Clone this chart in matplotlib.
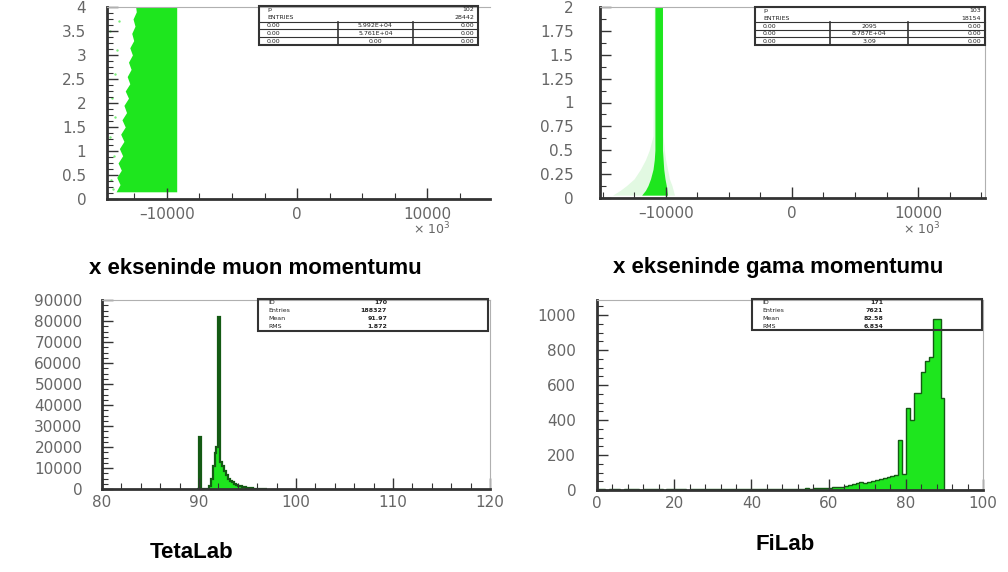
import numpy as np
import matplotlib.pyplot as plt
from matplotlib.patches import Rectangle
from matplotlib.ticker import MultipleLocator, FixedLocator, FixedFormatter, FuncFormatter

W, H = 1008, 572

# muon px vs. something: dense region, ragged left edge
muon_y = [0.15, 0.3, 0.45, 0.6, 0.75, 0.9, 1.05, 1.2, 1.35, 1.5, 1.65, 1.8, 1.95, 2.1,
          2.25, 2.4, 2.55, 2.7, 2.85, 3.0, 3.15, 3.3, 3.45, 3.6, 3.75, 3.9, 4.0]
muon_left = [-13900, -13600, -13850, -13500, -13750, -13400, -13650, -13300, -13550, -13200,
             -13450, -13100, -13300, -12950, -13200, -12850, -13050, -12750, -12950, -12650,
             -12850, -12550, -12700, -12450, -12600, -12350, -12400]
muon_right = -9250
muon_dots_x = [-14300, -14100, -14400, -13950, -14200, -14000, -13800, -14350, -13700, -14150]
muon_dots_y = [0.4, 0.9, 1.3, 1.7, 2.1, 2.6, 3.1, 3.5, 3.7, 0.2]

# gamma px: narrow core band and a faint halo at small y
gamma_y = [0.03, 0.08, 0.13, 0.2, 0.3, 0.4, 0.5, 0.65, 2.0]
gamma_core_left = [-11900, -11600, -11400, -11200, -11000, -10900, -10850, -10850, -10850]
gamma_core_right = [-9850, -9900, -9950, -10050, -10150, -10200, -10250, -10250, -10250]
gamma_halo_left = [-14200, -13600, -13100, -12500, -12000, -11600, -11300, -11000, -10900]
gamma_halo_right = [-9300, -9400, -9500, -9700, -9850, -10000, -10100, -10200, -10250]

# TetaLab histogram, 0.2 wide bins starting at 89.8
teta_start, teta_width = 89.8, 0.2
teta_counts = [0, 25000, 0, 0, 0, 0, 1500, 5000, 11000, 17000, 20000, 82000, 13000, 11000,
               8500, 6500, 5000, 4000, 3200, 2600, 2000, 1600, 1300, 1000, 800, 600, 450,
               350, 250, 200, 150, 100, 80, 60, 50, 40]

# FiLab histogram, 1 degree bins from 0 to 100
fi_counts = [3, 5, 2, 4, 6, 3, 2, 5, 4, 3,
             4, 2, 5, 3, 4, 6, 3, 2, 4, 5,
             6, 3, 4, 2, 5, 3, 4, 6, 5, 3,
             4, 6, 5, 4, 3, 5, 6, 4, 5, 6,
             7, 5, 6, 4, 5, 6, 7, 5, 6, 8,
             7, 6, 8, 7, 9, 8, 10, 9, 11, 12,
             14, 15, 18, 20, 24, 28, 32, 38, 45, 42,
             48, 52, 58, 62, 66, 72, 80, 88, 285, 90,
             467, 400, 552, 552, 676, 735, 760, 975, 975, 524,
             0, 0, 0, 0, 0, 0, 0, 0, 0, 0]

green = '#1ee61e'
dark_green = '#145a14'
tick_grey = '#666666'

fig = plt.figure(figsize=(W / 100, H / 100), dpi=100)


def box(l, t, r, b):
    return [l / W, 1 - b / H, (r - l) / W, (b - t) / H]


def style_axes(ax, show_right=True, ypad=15):
    for s in ['left', 'bottom']:
        ax.spines[s].set_color('#333333')
        ax.spines[s].set_linewidth(2)
    for s in ['top', 'right']:
        ax.spines[s].set_color('#b0b0b0')
        ax.spines[s].set_linewidth(0.8)
    if not show_right:
        ax.spines['right'].set_visible(False)
    ax.tick_params(which='both', direction='in', colors='#333333', labelcolor=tick_grey,
                   labelsize=11, top=False, right=False)
    ax.tick_params(which='major', length=8, width=1)
    ax.tick_params(which='minor', length=4, width=0.8)
    ax.tick_params(axis='y', pad=ypad)
    ax.yaxis.set_major_formatter(FuncFormatter(lambda v, p: '%g' % v))


def fpx(x, y):
    return x / W, 1 - y / H


def stats_th1(l, t, r, b, vcol, rows):
    fig.add_artist(Rectangle(fpx(l, b), (r - l) / W, (b - t) / H, transform=fig.transFigure,
                             fill=False, ec='#333333', lw=1.5, zorder=10))
    n = len(rows)
    step = (b - t) / n
    for i, (name, val) in enumerate(rows):
        y = t + step * (i + 0.5)
        fig.text(*fpx(l + 10, y), name, fontsize=4.5, va='center', ha='left', color='#222222')
        fig.text(*fpx(vcol, y), val, fontsize=4.5, va='center', ha='right', color='#222222',
                 fontweight='bold')


def stats_th2(l, t, r, b, d1, d2, head, grid):
    fig.add_artist(Rectangle(fpx(l, b), (r - l) / W, (b - t) / H, transform=fig.transFigure,
                             fill=False, ec='#333333', lw=1.5, zorder=10))
    step = (b - t) / 5
    for i, (name, val) in enumerate(head):
        y = t + step * (i + 0.5)
        fig.text(*fpx(l + 8, y), name, fontsize=4.5, va='center', ha='left', color='#222222')
        fig.text(*fpx(r - 4, y), val, fontsize=4.5, va='center', ha='right', color='#222222')
    for i in range(3):
        yl = t + step * (2 + i)
        fig.add_artist(plt.Line2D([l / W, r / W], [1 - yl / H] * 2, transform=fig.transFigure,
                                  color='#333333', lw=0.8))
    for xd in (d1, d2):
        fig.add_artist(plt.Line2D([xd / W] * 2, [1 - (t + 2 * step) / H, 1 - b / H],
                                  transform=fig.transFigure, color='#333333', lw=1.2))
    for i, row in enumerate(grid):
        y = t + step * (2.5 + i)
        fig.text(*fpx(l + 8, y), row[0], fontsize=4.5, va='center', ha='left', color='#222222')
        fig.text(*fpx((d1 + d2) / 2, y), row[1], fontsize=4.5, va='center', ha='center',
                 color='#222222')
        fig.text(*fpx(r - 4, y), row[2], fontsize=4.5, va='center', ha='right', color='#222222')


def px_ticks(ax, lo, hi):
    ax.set_xlim(lo, hi)
    ax.xaxis.set_major_locator(FixedLocator([-10000, 0, 10000]))
    ax.xaxis.set_major_formatter(FixedFormatter(['\u201310000', '0', '10000']))
    ax.xaxis.set_minor_locator(MultipleLocator(2500))
    ax.tick_params(axis='x', pad=6)


# --- muon momentum (top left)
ax1 = fig.add_axes(box(107, 7, 490, 199))
ax1.fill_betweenx(muon_y, muon_left, muon_right, color=green, lw=0)
ax1.scatter(muon_dots_x, muon_dots_y, s=3, color='#7aee7a', lw=0)
ax1.set_ylim(0, 4)
ax1.yaxis.set_major_locator(MultipleLocator(0.5))
ax1.yaxis.set_minor_locator(MultipleLocator(0.125))
px_ticks(ax1, -14600, 14800)
style_axes(ax1, show_right=False, ypad=15)
fig.text(*fpx(432, 229), '\u00d7 10$^{3}$', fontsize=9, color=tick_grey, ha='center', va='center')

# --- gamma momentum (top right)
ax2 = fig.add_axes(box(600, 7, 985, 198))
ax2.fill_betweenx(gamma_y, gamma_halo_left, gamma_halo_right, color='#e2f9e2', lw=0)
ax2.fill_betweenx(gamma_y, gamma_core_left, gamma_core_right, color=green, lw=0)
ax2.set_ylim(0, 2)
ax2.yaxis.set_major_locator(MultipleLocator(0.25))
ax2.yaxis.set_minor_locator(MultipleLocator(0.125))
px_ticks(ax2, -15200, 15300)
style_axes(ax2, ypad=19)
fig.text(*fpx(922, 229), '\u00d7 10$^{3}$', fontsize=9, color=tick_grey, ha='center', va='center')

# --- TetaLab (bottom left)
ax3 = fig.add_axes(box(102, 300, 490, 489))
teta_edges = teta_start + teta_width * np.arange(len(teta_counts) + 1)
ax3.stairs(teta_counts, teta_edges, fill=True, color=green, lw=0)
ax3.stairs(teta_counts, teta_edges, color=dark_green, lw=1.6)
ax3.set_xlim(80, 120)
ax3.set_ylim(0, 90000)
ax3.xaxis.set_major_locator(MultipleLocator(10))
ax3.xaxis.set_minor_locator(MultipleLocator(2))
ax3.yaxis.set_major_locator(MultipleLocator(10000))
ax3.yaxis.set_minor_locator(MultipleLocator(2500))
style_axes(ax3, ypad=14)
ax3.tick_params(axis='x', pad=4)

# --- FiLab (bottom right)
ax4 = fig.add_axes(box(597, 300, 983, 490))
fi_edges = np.arange(len(fi_counts) + 1)
ax4.stairs(fi_counts, fi_edges, fill=True, color=green, lw=0)
ax4.stairs(fi_counts, fi_edges, color=dark_green, lw=1.0)
ax4.set_xlim(0, 100)
ax4.set_ylim(0, 1086)
ax4.xaxis.set_major_locator(MultipleLocator(20))
ax4.xaxis.set_minor_locator(MultipleLocator(4))
ax4.yaxis.set_major_locator(MultipleLocator(200))
ax4.yaxis.set_minor_locator(MultipleLocator(50))
style_axes(ax4, ypad=15)
ax4.tick_params(axis='x', pad=4)

# stats boxes
stats_th2(259, 6, 478, 45, 338, 413,
          [('p', '102'), ('ENTRIES', '28442')],
          [('0.00', '5.992E+04', '0.00'), ('0.00', '5.761E+04', '0.00'), ('0.00', '0.00', '0.00')])
stats_th2(755, 7, 985, 45, 830, 908,
          [('p', '103'), ('ENTRIES', '18154')],
          [('0.00', '2095', '0.00'), ('0.00', '8.787E+04', '0.00'), ('0.00', '3.09', '0.00')])
stats_th1(258, 299, 488, 331, 387,
          [('ID', '170'), ('Entries', '188327'), ('Mean', '91.97'), ('RMS', '1.872')])
stats_th1(752, 299, 982, 330, 883,
          [('ID', '171'), ('Entries', '7621'), ('Mean', '82.58'), ('RMS', '6.834')])

# captions
cap = dict(fontsize=16, fontweight='bold', family='Liberation Sans', ha='center', va='center',
           color='black')
fig.text(*fpx(255, 268), 'x ekseninde muon momentumu', **cap)
fig.text(*fpx(778, 268), 'x ekseninde gama momentumu', **cap)
fig.text(*fpx(192, 553), 'TetaLab', **cap)
fig.text(*fpx(785, 545), 'FiLab', **cap)

fig.savefig('out.png', dpi=100)
